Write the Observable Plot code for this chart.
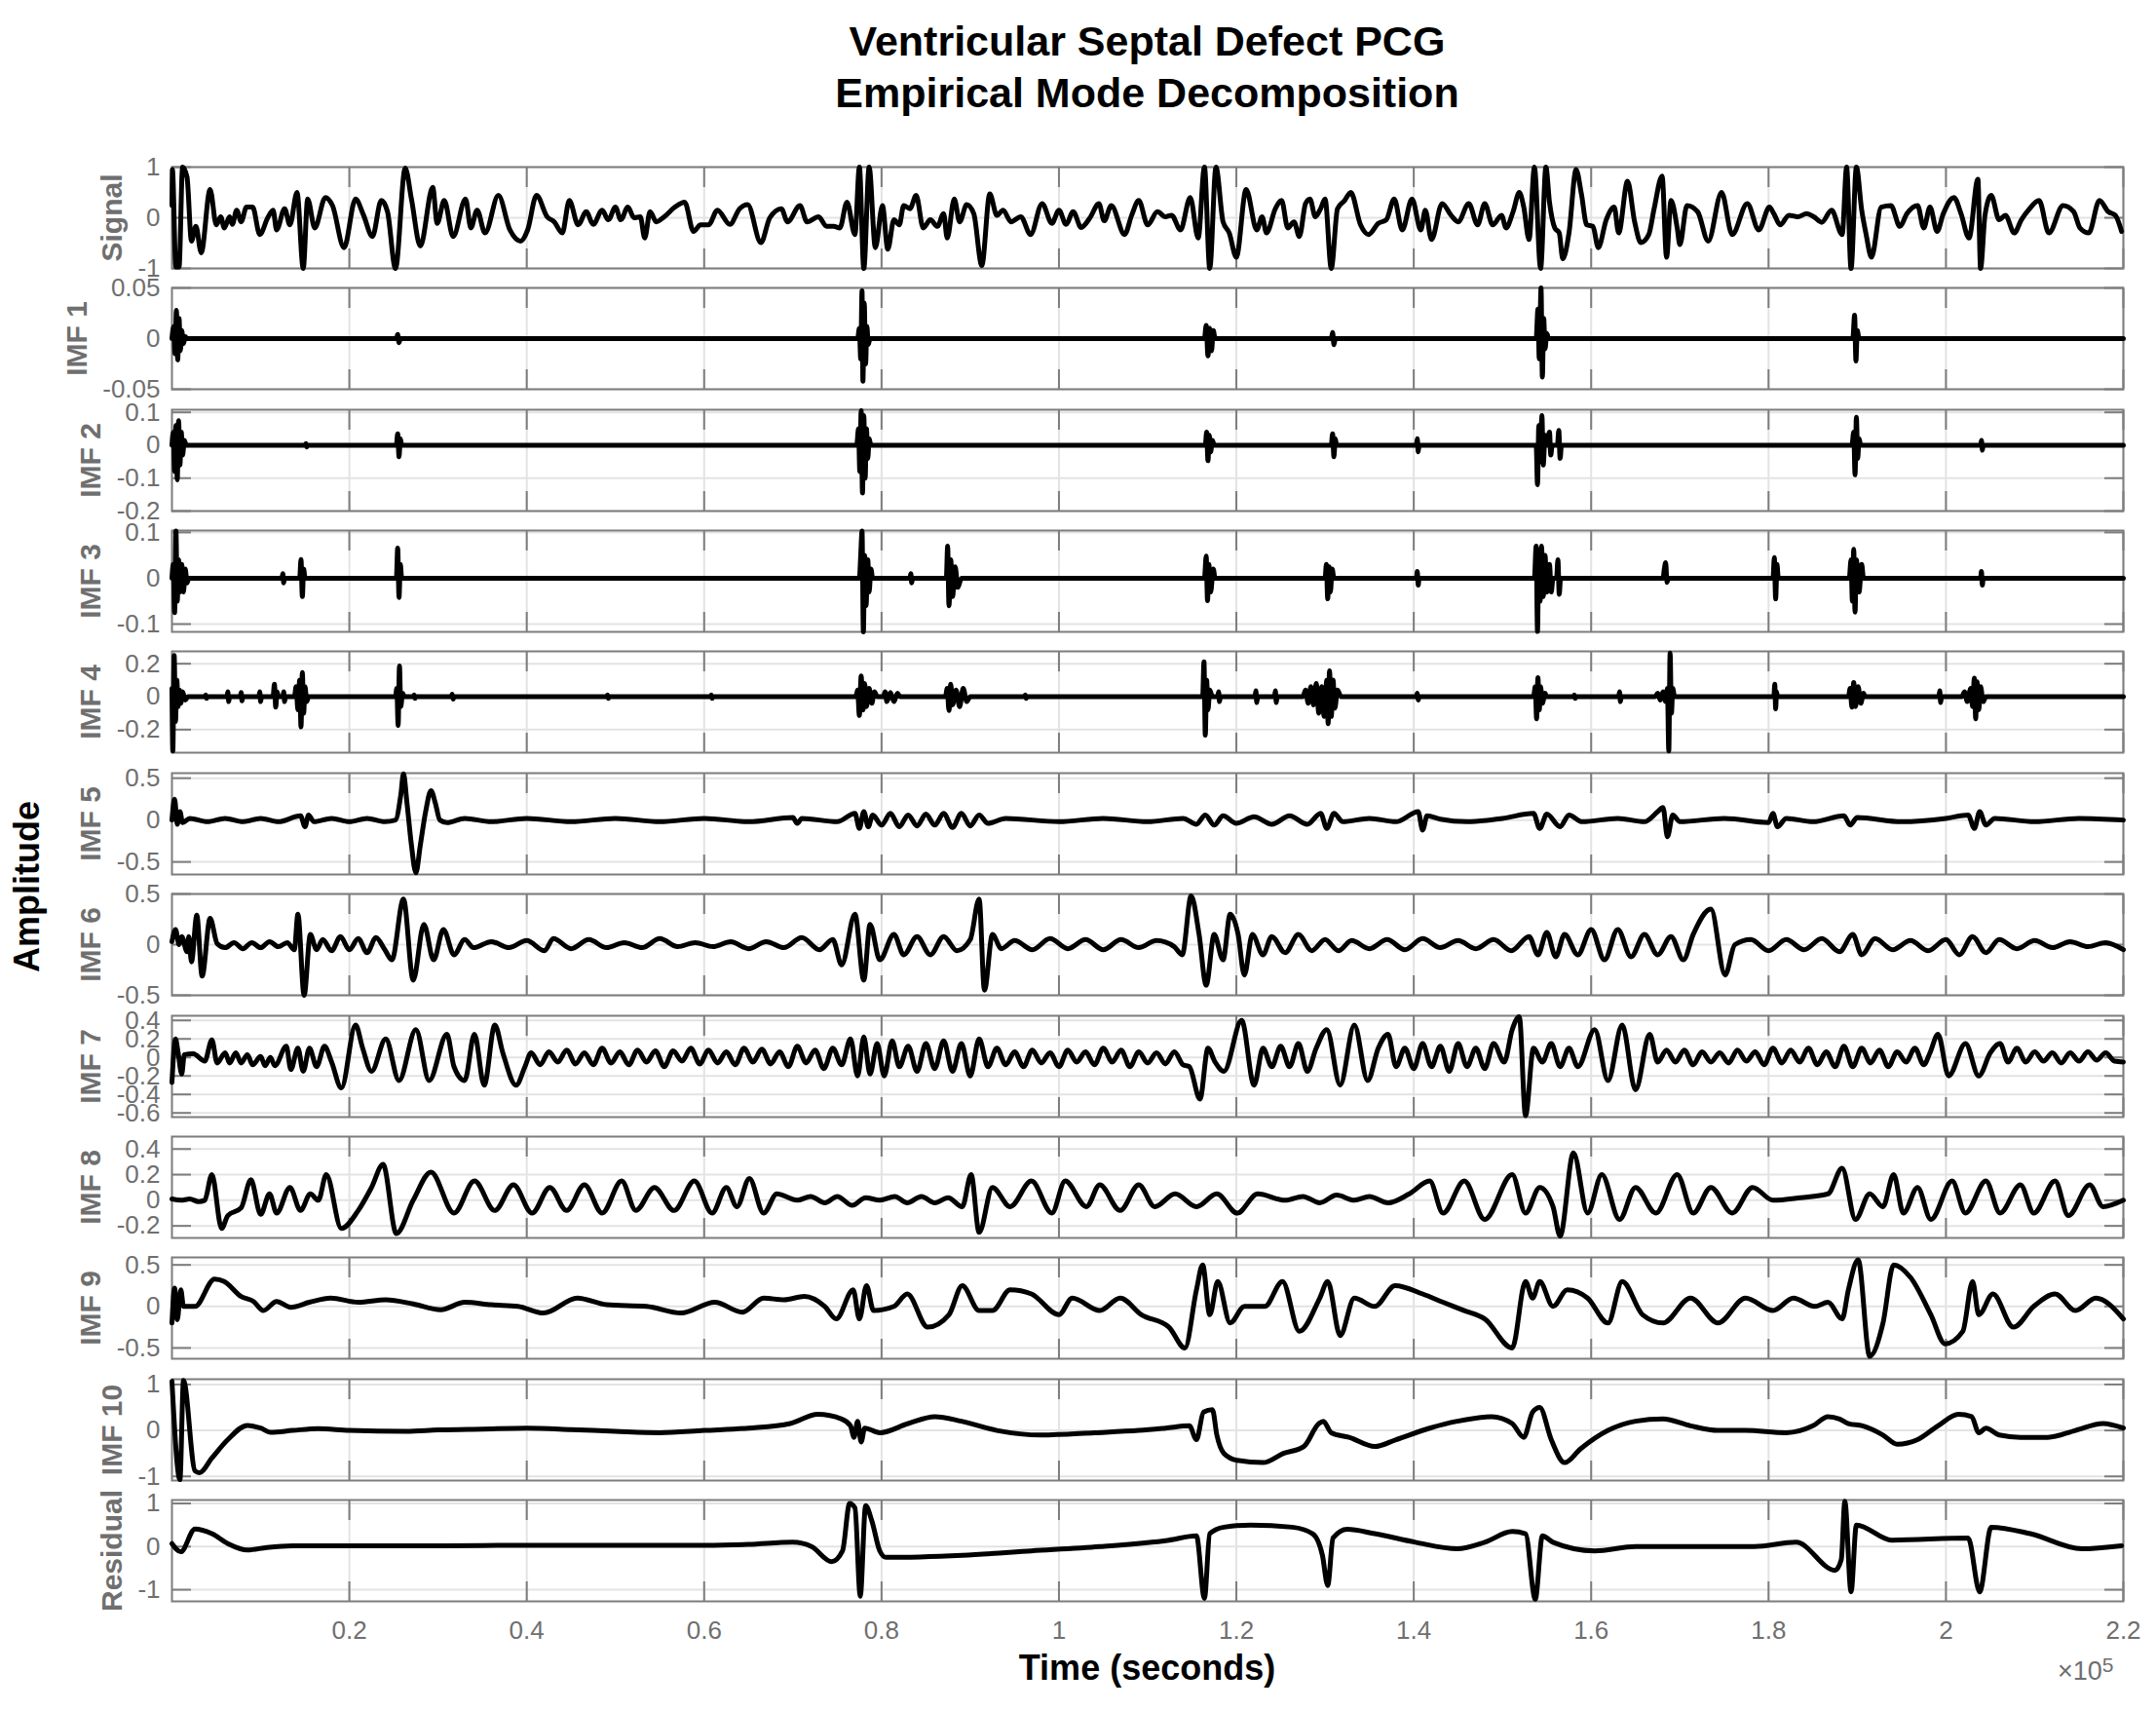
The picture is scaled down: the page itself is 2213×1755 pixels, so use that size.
<!DOCTYPE html>
<html>
<head>
<meta charset="utf-8">
<script src="https://cdn.jsdelivr.net/npm/d3@7"></script>
<script src="https://cdn.jsdelivr.net/npm/@observablehq/plot@0.6"></script>
<style>
  html, body { margin: 0; padding: 0; background: #fff; }
  body { width: 2213px; height: 1755px; position: relative; overflow: hidden; font-family: "Liberation Sans", Arial, sans-serif; }
  #title { position: absolute; left: 176px; width: 2003px; top: 16px; text-align: center; font-weight: bold; font-size: 43px; line-height: 53px; color: #000; }
  #ylab { position: absolute; left: 28px; top: 910px; transform: translate(-50%, -50%) rotate(-90deg); font-weight: bold; font-size: 36px; line-height: 36px; white-space: nowrap; color: #000; }
  #xlab { position: absolute; left: 176px; width: 2003px; top: 1693px; text-align: center; font-weight: bold; font-size: 36px; line-height: 38px; color: #000; }
  #exp { position: absolute; left: 2112px; top: 1700px; font-size: 27px; line-height: 30px; color: #6f6f6f; white-space: nowrap; }
  #exp sup { font-size: 21px; position: relative; top: -6px; vertical-align: top; }
</style>
</head>
<body>
<div id="title">Ventricular Septal Defect PCG<br>Empirical Mode Decomposition</div>
<div id="ylab">Amplitude</div>
<div id="xlab">Time (seconds)</div>
<div id="exp">×10<sup>5</sup></div>
<div id="panels"></div>
<script>
// ---------- data: [time in thousands of samples, amplitude] ----------
const signal = [[0,0.24],[0.05,0.95],[0.44,-0.97],[0.8,-0.97],[1.2,1.0],[1.7,0.8],[2.2,-0.46],[2.7,-0.17],[3.3,-0.69],[4.3,0.56],[5.0,-0.14],[5.5,0.02],[5.9,-0.2],[6.5,0.02],[6.8,-0.13],[7.3,0.15],[7.8,-0.08],[8.4,0.21],[9.1,0.21],[9.9,-0.33],[10.8,0],[11.4,0.15],[11.8,-0.24],[12.7,0.18],[13.3,-0.14],[14.1,0.5],[14.8,-1.0],[15.3,0.37],[16.1,-0.2],[17.3,0.4],[18.1,0.24],[19.4,-0.59],[20.7,0.37],[21.6,0.05],[22.6,-0.37],[23.6,0.34],[24.3,0.12],[25.2,-1.0],[26.3,0.98],[27.0,0.37],[28.0,-0.56],[29.4,0.6],[29.9,-0.11],[30.7,0.34],[31.7,-0.37],[33.1,0.37],[33.7,-0.2],[34.4,0.15],[35.3,-0.3],[36.8,0.44],[38.1,-0.24],[39.3,-0.46],[40.1,-0.24],[41.1,0.44],[42.3,0.02],[43.1,-0.08],[44.0,-0.3],[44.8,0.34],[45.8,-0.14],[46.7,0.12],[47.5,-0.13],[48.5,0.15],[49.2,-0.04],[50.0,0.21],[50.6,-0.04],[51.4,0.21],[52.1,0],[52.8,0.02],[53.3,-0.4],[53.9,0.12],[54.6,-0.08],[55.5,0.02],[56.7,0.21],[57.8,0.31],[58.8,-0.27],[59.6,-0.14],[60.5,-0.14],[61.5,0.15],[62.9,-0.13],[64.0,0.18],[64.9,0.26],[66.4,-0.49],[67.4,0],[68.7,0.18],[69.4,-0.08],[70.8,0.24],[71.6,-0.08],[72.9,0.02],[73.8,-0.17],[74.6,-0.17],[75.3,-0.2],[76.1,0.31],[77.0,-0.33],[77.5,1.0],[78.0,-1.0],[78.6,1.0],[79.3,-0.59],[80.1,0.24],[80.7,-0.62],[81.4,-0.04],[82.0,-0.14],[82.5,0.24],[83.2,0.18],[83.9,0.44],[84.7,-0.2],[85.5,-0.04],[86.3,-0.17],[87.0,0.08],[87.4,-0.4],[88.2,0.37],[88.8,-0.08],[89.6,0.26],[90.4,0.08],[91.3,-0.94],[92.2,0.47],[93.0,0.05],[93.7,0.15],[94.6,-0.08],[95.7,0.02],[96.8,-0.33],[98.1,0.28],[99.2,-0.11],[100.0,0.15],[100.8,-0.13],[101.6,0.12],[102.5,-0.19],[103.5,0],[104.5,0.28],[105.1,-0.06],[105.9,0.24],[107.4,-0.33],[108.2,0.05],[109.0,0.34],[110.0,-0.14],[111.1,0.12],[112.0,0.02],[112.7,0.05],[113.7,-0.24],[114.8,0.4],[115.7,-0.4],[116.4,1.0],[117.0,-1.0],[117.7,1.0],[118.5,-0.08],[119.2,-0.3],[120.0,-0.78],[121.1,0.56],[122.3,-0.24],[122.9,0.02],[123.4,-0.3],[124.4,0.18],[125.1,0.34],[125.8,-0.2],[126.5,-0.08],[127.1,-0.37],[127.8,0.28],[128.3,0.37],[128.9,0.02],[129.5,0.18],[130.0,0.37],[130.7,-1.0],[131.4,0.18],[132.2,0.34],[132.9,0.5],[134.0,-0.14],[134.9,-0.33],[136.0,-0.11],[136.9,-0.04],[137.8,0.37],[138.7,-0.24],[139.8,0.37],[140.8,-0.24],[141.3,0.15],[142.0,-0.43],[143.2,0.28],[144.2,0.05],[145.0,-0.08],[146.2,0.28],[147.2,-0.14],[148.0,0.28],[148.9,-0.14],[149.9,0.05],[150.4,-0.2],[151.2,0.12],[151.9,0.5],[152.4,0.21],[153.0,-0.43],[153.6,1.0],[154.3,-1.0],[154.9,1.0],[155.3,0.31],[155.9,-0.2],[156.4,-0.3],[156.8,-0.81],[157.5,-0.3],[158.3,0.95],[158.9,0.47],[159.5,-0.14],[160.2,-0.17],[160.8,-0.59],[161.7,-0.04],[162.6,0.21],[163.1,-0.3],[164.1,0.72],[164.9,-0.08],[165.6,-0.49],[166.5,-0.33],[167.1,0.18],[168.0,0.82],[168.5,-0.78],[169.0,0.34],[169.7,-0.2],[170.0,-0.53],[170.8,0.24],[172.0,0.12],[173.2,-0.46],[174.7,0.5],[175.9,-0.33],[177.6,0.28],[178.9,-0.24],[180.1,0.21],[180.6,0.08],[181.3,-0.14],[182.3,0.05],[183.3,0.02],[184.3,0.08],[185.1,0.02],[186.0,-0.09],[187.1,0.15],[188.3,-0.33],[188.8,1.0],[189.3,-1.0],[189.9,1.0],[190.5,0.15],[191.0,-0.33],[191.6,-0.78],[192.7,0.21],[193.8,0.24],[194.8,-0.17],[195.6,0.08],[196.8,0.24],[197.5,-0.2],[198.2,0.21],[199.0,-0.27],[199.7,0.08],[200.9,0.4],[201.7,0.08],[202.6,-0.4],[203.6,0.76],[203.9,-1.0],[204.4,0.05],[205.1,0.44],[206.0,-0.04],[206.7,0.05],[207.7,-0.3],[208.5,-0.04],[209.3,0.15],[210.5,0.34],[211.6,-0.3],[213.2,0.24],[214.4,0.12],[215.1,-0.2],[216.1,-0.3],[217.3,0.34],[218.3,0.12],[219.1,0.05],[219.8,-0.27]];

const imf1 = [[0,0],[0.2,0.012],[0.35,-0.015],[0.5,0.028],[0.65,-0.021],[0.8,0.02],[0.95,-0.012],[1.1,0.008],[1.3,-0.005],[1.5,0.002],[1.7,0],[25.3,0],[25.45,0.004],[25.6,-0.004],[25.75,0],[77.3,0],[77.5,0.01],[77.65,-0.02],[77.8,0.047],[77.9,-0.042],[78.05,0.035],[78.2,-0.025],[78.35,0.012],[78.5,-0.006],[78.7,0],[116.4,0],[116.6,0.013],[116.8,-0.017],[117.0,0.01],[117.2,-0.012],[117.4,0.008],[117.6,0],[130.7,0],[130.85,0.006],[131.0,-0.006],[131.15,0],[153.8,0],[154.0,0.029],[154.15,-0.02],[154.35,0.05],[154.5,-0.038],[154.65,0.02],[154.8,-0.01],[155.0,0.005],[155.2,0],[189.5,0],[189.7,0.023],[189.85,-0.022],[190.0,0.008],[190.2,0],[220,0]];

const imf2 = [[0,0],[0.15,0.04],[0.3,-0.08],[0.45,0.06],[0.6,-0.105],[0.75,0.075],[0.9,-0.06],[1.05,0.04],[1.2,-0.03],[1.4,0.015],[1.6,0],[15,0],[15.1,0.005],[15.2,-0.005],[15.3,0],[25.3,0],[25.45,0.035],[25.6,-0.035],[25.75,0.02],[25.9,0],[77.2,0],[77.4,0.05],[77.55,-0.08],[77.7,0.105],[77.85,-0.145],[78.0,0.09],[78.15,-0.1],[78.3,0.05],[78.45,-0.04],[78.6,0.02],[78.8,0],[116.5,0],[116.65,0.04],[116.8,-0.047],[116.95,0.03],[117.1,-0.02],[117.3,0.015],[117.5,0],[130.7,0],[130.85,0.035],[131.0,-0.035],[131.15,0.02],[131.3,0],[140.3,0],[140.4,0.02],[140.5,-0.02],[140.6,0],[153.8,0],[153.95,-0.12],[154.1,0.06],[154.25,-0.05],[154.45,0.09],[154.6,-0.06],[154.8,0.03],[155.0,0],[155.3,0.04],[155.45,-0.03],[155.6,0],[156.2,0],[156.35,0.045],[156.5,-0.04],[156.65,0],[189.4,0],[189.6,0.04],[189.75,-0.09],[189.9,0.085],[190.05,-0.04],[190.2,0.02],[190.4,0],[203.9,0],[204.0,0.015],[204.1,-0.015],[204.2,0],[220,0]];

const imf3 = [[0,0],[0.15,0.03],[0.3,-0.075],[0.45,0.103],[0.6,-0.05],[0.75,0.04],[0.9,-0.03],[1.1,0.03],[1.3,-0.03],[1.5,0.02],[1.7,-0.01],[1.9,0],[12.4,0],[12.5,0.01],[12.6,-0.01],[12.7,0],[14.4,0],[14.55,0.041],[14.7,-0.04],[14.85,0.02],[15.0,0],[25.3,0],[25.45,0.066],[25.6,-0.042],[25.75,0.03],[25.9,0],[77.5,0],[77.65,0.05],[77.8,0.103],[77.95,-0.117],[78.1,0.05],[78.25,-0.06],[78.45,0.04],[78.6,-0.03],[78.8,0.02],[79.0,0],[83.2,0],[83.3,0.01],[83.4,-0.01],[83.5,0],[87.3,0],[87.45,0.07],[87.6,-0.06],[87.8,0.04],[88.0,-0.04],[88.3,0.025],[88.6,-0.02],[89.0,0],[116.4,0],[116.6,0.048],[116.75,-0.049],[116.9,0.03],[117.1,-0.03],[117.4,0.02],[117.6,0],[130.0,0],[130.15,0.03],[130.3,-0.045],[130.45,0.025],[130.6,-0.03],[130.8,0.02],[131.0,0],[140.3,0],[140.4,0.015],[140.5,-0.015],[140.6,0],[153.6,0],[153.8,0.07],[153.95,-0.116],[154.1,0.06],[154.25,-0.05],[154.4,0.07],[154.6,-0.04],[154.8,0.05],[155.0,-0.03],[155.3,0.03],[155.5,-0.03],[155.7,0],[156.1,0],[156.25,0.04],[156.4,-0.035],[156.55,0],[168.1,0],[168.25,0.02],[168.4,0.034],[168.55,-0.009],[168.7,0],[180.5,0],[180.65,0.045],[180.8,-0.045],[180.95,0.03],[181.1,0],[189.1,0],[189.3,0.04],[189.45,-0.05],[189.6,0.063],[189.75,-0.074],[189.9,0.04],[190.2,-0.03],[190.5,0.03],[190.7,0],[203.9,0],[204.0,0.015],[204.1,-0.015],[204.2,0],[220,0]];

const imf4 = [[0,0.05],[0.1,-0.33],[0.25,0.25],[0.4,-0.15],[0.55,0.1],[0.7,-0.06],[0.85,0.04],[1.0,-0.04],[1.2,0.03],[1.5,-0.02],[1.8,0],[3.7,0],[3.8,0.01],[3.9,-0.01],[4.0,0],[6.2,0],[6.3,0.03],[6.4,-0.03],[6.5,0],[7.7,0],[7.8,0.025],[7.9,-0.025],[8.0,0],[9.8,0],[9.9,0.03],[10.0,-0.03],[10.1,0],[11.4,0],[11.55,0.076],[11.7,-0.064],[11.85,0.03],[12.0,0],[12.5,0],[12.6,0.03],[12.7,-0.03],[12.8,0],[13.8,0],[14.0,0.06],[14.2,-0.08],[14.4,0.1],[14.55,-0.184],[14.7,0.146],[14.85,-0.1],[15.0,0.06],[15.2,-0.03],[15.4,0],[25.2,0],[25.35,0.05],[25.5,-0.174],[25.65,0.186],[25.8,-0.06],[26.0,0.02],[26.2,0],[27.2,0],[27.3,0.01],[27.4,-0.01],[27.5,0],[31.5,0],[31.6,0.015],[31.7,-0.015],[31.8,0],[49.0,0],[49.1,0.01],[49.2,-0.01],[49.3,0],[60.7,0],[60.8,0.01],[60.9,-0.01],[61.0,0],[77.1,0],[77.3,0.04],[77.5,-0.114],[77.7,0.126],[77.9,-0.08],[78.1,0.08],[78.3,-0.06],[78.6,0.05],[78.9,-0.04],[79.2,0.03],[79.5,0],[80.2,0],[80.4,0.03],[80.6,-0.03],[81.0,0.025],[81.4,-0.03],[81.8,0.02],[82.1,0],[87.2,0],[87.4,0.05],[87.6,-0.084],[87.8,0.076],[88.0,-0.05],[88.4,0.04],[88.8,-0.06],[89.2,0.05],[89.6,-0.03],[90.0,0],[96.1,0],[96.2,0.01],[96.3,-0.01],[96.4,0],[116.2,0],[116.35,0.212],[116.5,-0.234],[116.65,0.1],[116.8,-0.08],[117.0,0.04],[117.3,0],[117.9,0],[118.0,0.03],[118.1,-0.03],[118.2,0],[122.1,0],[122.2,0.035],[122.3,-0.035],[122.4,0],[124.3,0],[124.4,0.035],[124.5,-0.035],[124.6,0],[127.5,0],[127.8,0.04],[128.1,-0.04],[128.4,0.06],[128.7,-0.05],[129.0,0.08],[129.3,-0.1],[129.6,0.06],[129.9,-0.12],[130.2,0.1],[130.35,-0.164],[130.5,0.156],[130.7,-0.12],[130.9,0.1],[131.1,-0.07],[131.4,0.04],[131.8,0],[140.3,0],[140.4,0.02],[140.5,-0.02],[140.6,0],[153.5,0],[153.7,0.06],[153.85,-0.134],[154.0,0.116],[154.15,-0.08],[154.3,0.06],[154.5,-0.04],[154.8,0.02],[155.0,0],[158.0,0],[158.1,0.01],[158.2,-0.01],[158.3,0],[163.1,0],[163.2,0.03],[163.3,-0.03],[163.4,0],[167.2,0],[167.5,0.02],[167.8,-0.02],[168.1,0.03],[168.4,-0.03],[168.6,0.05],[168.75,-0.33],[168.9,0.265],[169.05,-0.1],[169.2,0.05],[169.4,0],[180.6,0],[180.7,0.076],[180.8,-0.074],[180.9,0.03],[181.0,0],[189.0,0],[189.2,0.05],[189.4,-0.064],[189.6,0.086],[189.8,-0.06],[190.1,0.06],[190.4,-0.04],[190.7,0.02],[190.9,0],[199.2,0],[199.3,0.035],[199.4,-0.035],[199.5,0],[201.8,0],[202.1,0.03],[202.4,-0.03],[202.8,0.05],[203.0,-0.06],[203.2,0.112],[203.35,-0.134],[203.5,0.09],[203.7,-0.08],[203.9,0.06],[204.2,-0.03],[204.5,0],[220,0]];

const imf5 = [[0,0],[0.3,0.25],[0.6,-0.05],[0.9,0.1],[1.2,-0.03],[2,0.02],[4,-0.02],[6,0.02],[8,-0.02],[10,0.02],[12,-0.02],[14.5,0.05],[15.0,-0.08],[15.4,0.06],[16,-0.02],[18,0.02],[20,-0.02],[22,0.02],[24,-0.02],[25.2,0.0],[25.8,0.3],[26.1,0.55],[26.5,0.2],[27.0,-0.3],[27.5,-0.63],[28.0,-0.3],[28.6,0.1],[29.2,0.35],[29.7,0.2],[30.2,0],[31,-0.03],[33,0.02],[36,-0.02],[40,0.02],[45,-0.02],[50,0.02],[55,-0.02],[60,0.02],[65,-0.02],[70,0.03],[70.5,-0.04],[71,0.02],[75,-0.02],[77,0.08],[77.5,-0.1],[78,0.1],[78.5,-0.08],[79,0.06],[80,-0.06],[81,0.08],[82,-0.08],[83,0.06],[84,-0.07],[85,0.07],[86,-0.06],[87,0.08],[88,-0.09],[89,0.08],[90,-0.07],[91,0.06],[92,-0.04],[94,0.02],[100,-0.02],[105,0.02],[110,-0.02],[114,0.02],[115.5,-0.05],[116.5,0.06],[117.5,-0.06],[118.5,0.05],[120,-0.04],[122,0.04],[124,-0.05],[126,0.05],[128,-0.05],[129.5,0.08],[130.2,-0.1],[131,0.08],[132,-0.02],[135,0.02],[138,-0.02],[140.5,0.1],[141,-0.12],[141.5,0.05],[143,0.01],[146,-0.02],[150,0.02],[153.5,0.08],[154.2,-0.1],[155,0.07],[156.5,-0.08],[157.5,0.06],[159,-0.02],[163,0.02],[166,-0.02],[167.5,0.1],[168.1,0.15],[168.6,-0.2],[169.2,0.06],[170,-0.02],[175,0.02],[180,-0.03],[180.5,0.08],[181,-0.08],[182,0.02],[185,-0.02],[188.5,0.05],[189.2,-0.06],[190,0.03],[195,-0.02],[200,0.02],[202.5,0.06],[203.2,-0.1],[203.8,0.1],[204.5,-0.06],[205.5,0.02],[210,-0.02],[215,0.02],[220,0]];

const imf6 = [[0,0.03],[0.4,0.15],[0.8,0],[1.1,0.08],[1.7,-0.07],[1.9,0.08],[2.2,-0.17],[2.8,0.29],[3.4,-0.31],[4.3,0.26],[5.1,0.01],[6,-0.03],[7,0.02],[8,-0.04],[9,0.02],[10,-0.03],[11,0.03],[12,-0.02],[13,0.02],[13.8,-0.05],[14.2,0.3],[14.9,-0.5],[15.6,0.1],[16.3,-0.05],[17,0.05],[18,-0.06],[19,0.08],[20,-0.05],[21,0.06],[22,-0.08],[23,0.07],[24,-0.05],[24.8,-0.15],[26.1,0.45],[27.2,-0.35],[28.4,0.2],[29.5,-0.15],[30.6,0.15],[31.8,-0.1],[33,0.05],[34,-0.03],[36,0.03],[38,-0.03],[40,0.04],[42,-0.06],[43,0.06],[45,-0.04],[47,0.05],[49,-0.03],[51,0.02],[53,-0.03],[55,0.06],[57,-0.02],[59,0.02],[61,-0.02],[63,0.03],[65,-0.04],[67,0.03],[69,-0.03],[71,0.07],[73,-0.05],[74.5,0.05],[75.5,-0.2],[77.0,0.3],[78.0,-0.35],[78.7,0.2],[79.8,-0.15],[81.4,0.1],[82.5,-0.1],[84,0.08],[85.5,-0.1],[87,0.08],[88.5,-0.06],[90,0.05],[91,0.45],[91.6,-0.45],[92.5,0.1],[93.5,-0.04],[95,0.04],[97,-0.05],[99,0.06],[101,-0.04],[103,0.05],[105,-0.05],[107,0.05],[109,-0.03],[111,0.04],[113,-0.02],[113.9,-0.1],[114.9,0.48],[115.8,0.1],[116.6,-0.4],[117.5,0.1],[118.5,-0.15],[119.3,0.3],[120.2,0.1],[120.9,-0.3],[121.8,0.1],[123,-0.1],[124,0.08],[125.5,-0.08],[127,0.1],[128.5,-0.06],[130,0.05],[131.5,-0.06],[133,0.04],[135,-0.04],[137,0.05],[139,-0.05],[141,0.06],[143,-0.03],[145,0.04],[147,-0.04],[149,0.05],[151,-0.06],[153,0.08],[154,-0.1],[155,0.12],[156,-0.12],[157,0.1],[158.5,-0.1],[160,0.15],[161.5,-0.15],[163,0.15],[164.5,-0.12],[166,0.1],[167.5,-0.1],[169,0.08],[170.4,-0.15],[171.5,0.1],[173.5,0.35],[175.1,-0.3],[176.2,0],[178,0.05],[180,-0.06],[182,0.05],[184,-0.05],[186,0.06],[188,-0.07],[189.5,0.1],[190.5,-0.1],[192,0.06],[194,-0.05],[196,0.04],[198,-0.06],[200,0.05],[201.5,-0.1],[203,0.08],[204.5,-0.08],[206,0.05],[208,-0.04],[210,0.04],[212,-0.03],[214,0.03],[216,-0.02],[218,0.02],[220,-0.05]];

const imf7 = [[0,-0.27],[0.4,0.2],[0.7,0.05],[1.1,-0.18],[1.4,0.03],[2.4,0.04],[3.7,-0.04],[4.5,0.19],[5.1,-0.06],[6.0,0.05],[6.5,-0.06],[7.2,0.05],[7.8,-0.06],[8.5,0.03],[9.1,-0.08],[10,0.01],[10.5,-0.09],[11.1,0],[11.6,-0.09],[12.9,0.12],[13.4,-0.13],[14.2,0.1],[14.8,-0.15],[15.5,0.1],[16.3,-0.1],[17.2,0.12],[18,-0.05],[19.1,-0.33],[20.7,0.35],[21.5,0.1],[22.5,-0.15],[24.1,0.2],[25.6,-0.25],[27.5,0.3],[29.0,-0.25],[31.0,0.25],[31.8,-0.1],[33,-0.25],[34.1,0.25],[35.2,-0.3],[36.4,0.35],[37.3,0.05],[38.8,-0.3],[39.8,-0.1],[40.5,0.05],[41.5,-0.08],[42.5,0.06],[43.5,-0.05],[44.5,0.08],[45.5,-0.07],[46.5,0.05],[47.5,-0.08],[48.5,0.1],[49.5,-0.06],[50.5,0.06],[51.5,-0.08],[52.5,0.08],[53.5,-0.05],[54.5,0.07],[55.5,-0.1],[56.5,0.07],[57.5,-0.04],[58.5,0.1],[59.5,-0.07],[60.5,0.08],[61.5,-0.06],[62.5,0.06],[63.5,-0.08],[64.5,0.1],[65.5,-0.05],[66.5,0.09],[67.5,-0.07],[68.5,0.06],[69.5,-0.1],[70.5,0.12],[71.5,-0.06],[72.5,0.08],[73.5,-0.12],[74.5,0.1],[75.5,-0.08],[76.5,0.2],[77.3,-0.2],[78,0.22],[78.7,-0.18],[79.5,0.15],[80.3,-0.2],[81.2,0.18],[82,-0.1],[83,0.12],[84,-0.15],[85,0.15],[86,-0.12],[87,0.18],[88,-0.15],[89,0.15],[90,-0.2],[91,0.2],[92,-0.1],[93,0.1],[94,-0.08],[95,0.06],[96,-0.1],[97,0.08],[98,-0.06],[99,0.05],[100,-0.1],[101,0.08],[102,-0.05],[103,0.06],[104,-0.08],[105,0.1],[106,-0.05],[107,0.08],[108,-0.1],[109,0.06],[110,-0.06],[111,0.05],[112,-0.07],[113,0.06],[114,-0.08],[114.7,-0.1],[115.9,-0.45],[116.8,0.1],[117.6,-0.05],[118.6,-0.15],[120.6,0.4],[122.0,-0.3],[123,0.1],[124,-0.1],[125,0.12],[126,-0.1],[127,0.15],[128,-0.15],[129,0.1],[130.2,0.3],[131.7,-0.3],[133.3,0.35],[134.8,-0.25],[136,0.1],[137.1,0.25],[138,-0.1],[139,0.1],[140,-0.12],[141,0.15],[142,-0.1],[143,0.12],[144,-0.15],[145,0.15],[146,-0.1],[147,0.1],[148,-0.12],[149,0.15],[150.2,-0.05],[151.1,0.3],[151.9,0.44],[152.6,-0.63],[153.5,0.1],[154.5,-0.05],[155.5,0.15],[156.5,-0.1],[157.5,0.1],[158.5,-0.1],[160.4,0.3],[161.9,-0.25],[163.5,0.35],[165.0,-0.35],[166.6,0.25],[167.5,-0.05],[168.5,0.08],[169.5,-0.05],[170.5,0.08],[171.5,-0.08],[172.5,0.06],[173.5,-0.05],[174.5,0.05],[175.5,-0.06],[176.5,0.08],[177.5,-0.04],[178.5,0.06],[179.5,-0.08],[180.5,0.1],[181.5,-0.06],[182.5,0.08],[183.5,-0.05],[184.5,0.1],[185.5,-0.08],[186.5,0.06],[187.5,-0.1],[188.5,0.12],[189.5,-0.1],[190.5,0.1],[191.5,-0.06],[192.5,0.08],[193.5,-0.1],[194.5,0.06],[195.5,-0.05],[196.5,0.1],[197.5,-0.08],[198.2,0.05],[199.1,0.25],[200.3,-0.2],[202.2,0.15],[203.7,-0.2],[205,0.05],[206.1,0.15],[207,-0.05],[208,0.1],[209,-0.05],[210,0.06],[211,-0.04],[212,0.05],[213,-0.06],[214,0.05],[215,-0.04],[216,0.06],[217,-0.03],[218,0.05],[219,-0.04],[220,-0.05]];

const imf8 = [[0,0.01],[1,0],[2,0.01],[3,-0.01],[3.7,0],[4.5,0.2],[5.6,-0.22],[6.3,-0.12],[7.8,-0.06],[8.9,0.16],[10,-0.11],[11,0.05],[11.8,-0.1],[13.3,0.1],[14.5,-0.08],[15.6,0.05],[16.5,0.0],[17.4,0.2],[19.1,-0.22],[21.0,-0.08],[22.5,0.1],[23.8,0.28],[25.3,-0.26],[27.2,0],[29.2,0.22],[31.8,-0.1],[34.1,0.15],[36.4,-0.08],[38.5,0.12],[40.6,-0.1],[42.6,0.1],[44.5,-0.08],[46.5,0.12],[48.5,-0.1],[50.7,0.15],[52.3,-0.08],[54.4,0.1],[56.6,-0.08],[58.9,0.15],[60.9,-0.1],[62.5,0.1],[63.7,-0.05],[65.1,0.17],[66.7,-0.1],[68.2,0.05],[70.5,0],[72,0.03],[73.6,-0.02],[75,0.03],[76.7,-0.04],[78.2,0.02],[79.8,0],[81.5,0.03],[82.9,-0.02],[84.5,0.03],[86.0,-0.02],[87.5,0.02],[89.1,-0.05],[90.1,0.2],[91.0,-0.25],[92.5,0.1],[94.5,-0.05],[96.9,0.15],[99.2,-0.1],[100.7,0.15],[103.1,-0.05],[104.6,0.12],[106.9,-0.08],[109.0,0.12],[110.8,-0.05],[113.1,0.05],[115.5,-0.05],[117.8,0.05],[120.1,-0.1],[122.4,0.05],[125.5,0],[127.5,0.03],[129.4,-0.02],[131.3,0.04],[133.3,0],[135,0.03],[137.1,-0.02],[139.5,0.05],[141.8,0.15],[143.3,-0.1],[145.7,0.15],[148.0,-0.15],[151.1,0.2],[152.6,-0.1],[154.2,0.1],[155.7,-0.05],[156.5,-0.28],[158.0,0.37],[159.6,-0.1],[161.2,0.2],[163.2,-0.15],[165.0,0.1],[167.3,-0.1],[169.7,0.2],[171.5,-0.1],[173.5,0.1],[175.9,-0.1],[178.2,0.1],[180.5,0],[183.6,0.02],[186.7,0.05],[188.3,0.25],[189.8,-0.15],[191.4,0.05],[192.9,-0.05],[194.1,0.2],[195.2,-0.1],[196.8,0.1],[198.3,-0.15],[200.7,0.15],[202.2,-0.1],[204.5,0.15],[206.1,-0.1],[208.4,0.12],[209.9,-0.1],[212.3,0.15],[213.8,-0.12],[216.2,0.12],[217.7,-0.05],[220,0]];

const imf9 = [[0,-0.2],[0.3,0.22],[0.6,-0.16],[1.0,0.2],[1.3,0],[2.6,0],[4.8,0.33],[5.9,0.3],[7.8,0.12],[9.2,0.06],[10.3,-0.05],[11.8,0.06],[13.4,-0.01],[15.5,0.05],[17.9,0.1],[21.0,0.05],[24.1,0.08],[27.2,0.03],[30.3,-0.04],[33,0.05],[36,0.02],[39,0.0],[41.9,-0.08],[45.7,0.1],[49,0.02],[53.5,0],[57.4,-0.08],[61.2,0.05],[64.3,-0.07],[66.7,0.1],[69.0,0.08],[71.3,0.12],[73.6,0],[74.9,-0.15],[76.8,0.2],[77.5,-0.15],[78.3,0.25],[79.1,-0.05],[81.4,0],[82.9,0.15],[85.2,-0.25],[87.6,-0.1],[89.1,0.25],[91.0,-0.05],[92.5,-0.05],[94.5,0.2],[96.9,0.15],[100.0,-0.1],[101.5,0.1],[104.6,-0.05],[106.9,0.1],[109.3,-0.1],[112.4,-0.25],[114.2,-0.5],[115.5,0.2],[116.2,0.5],[117.0,-0.1],[117.9,0.3],[119.3,-0.2],[120.9,0],[123.2,0],[125.2,0.3],[127.1,-0.3],[129.4,0.1],[130.3,0.3],[131.7,-0.35],[133.3,0.1],[135.6,0],[137.9,0.25],[141.0,0.15],[143.3,0.05],[145.7,-0.05],[148.0,-0.15],[151.1,-0.5],[152.6,0.3],[153.4,0.1],[154.2,0.3],[155.7,0],[157.3,0.2],[159.6,0.1],[161.9,-0.2],[163.5,0.3],[165.8,-0.1],[168.1,-0.2],[171.2,0.1],[174.3,-0.2],[177.4,0.1],[180.5,-0.05],[182.8,0.1],[185.2,0],[186.7,0.05],[188.3,-0.15],[189.0,0.2],[190.1,0.56],[191.4,-0.6],[192.9,-0.2],[194.1,0.5],[196.0,0.35],[198.3,-0.1],[199.9,-0.45],[201.9,-0.3],[203.0,0.3],[203.7,-0.1],[205.3,0.15],[207.6,-0.25],[209.9,0],[212.3,0.15],[214.6,-0.05],[216.9,0.1],[220,-0.15]];

const imf10 = [[0,1.07],[0.9,-1.07],[1.3,1.09],[2.6,-0.88],[3.1,-0.92],[4.5,-0.6],[6.3,-0.2],[8.5,0.11],[10,0.05],[11.1,-0.04],[13.6,0],[16.5,0.04],[20,0],[26.4,-0.02],[30,0.01],[35,0.03],[40,0.05],[45,0.02],[50,-0.02],[55,-0.05],[60,0],[65,0.05],[69.7,0.15],[72.8,0.35],[75.5,0.25],[76.5,0.1],[76.9,-0.15],[77.3,0.2],[77.7,-0.25],[78.1,0.05],[79.8,-0.05],[83,0.15],[86,0.3],[89,0.2],[93,0],[98,-0.1],[104,-0.05],[109,0],[112,0.05],[114.7,0.1],[115.5,-0.2],[116.3,0.4],[117.3,0.45],[117.8,-0.1],[118.6,-0.5],[120.1,-0.65],[123,-0.7],[125.3,-0.5],[127.6,-0.35],[129.3,0.15],[129.8,0.2],[130.7,-0.05],[132.7,-0.15],[135.6,-0.35],[138,-0.2],[141.8,0.05],[144.9,0.2],[148.8,0.3],[151.1,0.15],[152.4,-0.15],[153.4,0.4],[154.2,0.5],[155.5,-0.2],[157,-0.7],[158.8,-0.4],[161.9,0],[165,0.2],[168.1,0.25],[171.2,0.1],[174.3,0],[177.4,0],[182,-0.05],[185,0.1],[186.7,0.3],[188,0.25],[189,0.15],[190.6,0.1],[192.9,-0.1],[194.5,-0.3],[196.8,-0.2],[199.1,0.1],[201.4,0.35],[202.9,0.3],[203.7,-0.05],[204.5,0.05],[206,-0.1],[208.4,-0.15],[211.5,-0.15],[214.6,0],[217.7,0.15],[220,0.05]];

const residual = [[0,0.07],[1.0,-0.12],[2.6,0.41],[4.5,0.3],[6.3,0.07],[8.5,-0.08],[10.7,-0.02],[13.6,0.02],[20,0.02],[30,0.02],[40,0.03],[50,0.03],[60,0.03],[65,0.05],[70,0.1],[72.1,0.0],[74.4,-0.35],[75.6,-0.1],[76.4,1.0],[77.0,0.9],[77.6,-1.15],[78.2,0.95],[78.9,0.6],[79.8,-0.1],[80.5,-0.25],[89.1,-0.2],[96.9,-0.1],[104.6,0],[112.4,0.15],[115.5,0.25],[116.4,-1.2],[117.0,0.3],[118.6,0.45],[121.6,0.5],[126.3,0.45],[128.6,0.3],[129.7,-0.2],[130.3,-0.9],[130.9,0.2],[132.5,0.4],[135.6,0.3],[140.2,0.1],[144.9,-0.05],[148.0,0.1],[151.1,0.35],[152.6,0.3],[153.7,-1.22],[154.5,0.25],[155.7,0.1],[160.4,-0.1],[165,0],[172.9,0],[178.4,0],[183.1,0.1],[187.5,-0.55],[188.2,-0.3],[188.6,1.05],[189.3,-1.05],[189.9,0.5],[193.9,0.15],[202.5,0.2],[203.8,-1.05],[205.1,0.45],[209.5,0.3],[215.3,-0.05],[219.8,0.02]];

// ---------- tick values ----------
const xTicks = [20000, 40000, 60000, 80000, 100000, 120000, 140000, 160000, 180000, 200000, 220000];
const signalTicks = [-1, 0, 1];
const imf1Ticks = [-0.05, 0, 0.05];
const imf2Ticks = [-0.2, -0.1, 0, 0.1];
const imf3Ticks = [-0.1, 0, 0.1];
const imf4Ticks = [-0.2, 0, 0.2];
const imf5Ticks = [-0.5, 0, 0.5];
const imf6Ticks = [-0.5, 0, 0.5];
const imf7Ticks = [-0.6, -0.4, -0.2, 0, 0.2, 0.4];
const imf8Ticks = [-0.2, 0, 0.2, 0.4];
const imf9Ticks = [-0.5, 0, 0.5];
const imf10Ticks = [-1, 0, 1];
const residualTicks = [-1, 0, 1];

const panels = [
  {label: "Signal", data: signal, domain: [-1, 1], ticks: signalTicks},
  {label: "IMF 1", data: imf1, domain: [-0.05, 0.05], ticks: imf1Ticks},
  {label: "IMF 2", data: imf2, domain: [-0.2, 0.108], ticks: imf2Ticks},
  {label: "IMF 3", data: imf3, domain: [-0.117, 0.104], ticks: imf3Ticks},
  {label: "IMF 4", data: imf4, domain: [-0.34, 0.275], ticks: imf4Ticks},
  {label: "IMF 5", data: imf5, domain: [-0.65, 0.56], ticks: imf5Ticks},
  {label: "IMF 6", data: imf6, domain: [-0.5, 0.5], ticks: imf6Ticks},
  {label: "IMF 7", data: imf7, domain: [-0.645, 0.45], ticks: imf7Ticks},
  {label: "IMF 8", data: imf8, domain: [-0.294, 0.497], ticks: imf8Ticks},
  {label: "IMF 9", data: imf9, domain: [-0.63, 0.59], ticks: imf9Ticks},
  {label: "IMF 10", data: imf10, domain: [-1.09, 1.115], ticks: imf10Ticks},
  {label: "Residual", data: residual, domain: [-1.27, 1.08], ticks: residualTicks}
];

// ---------- layout ----------
const W = 2213, LEFT = 176, RIGHT = 2179;
const TOP0 = 171, STEP = 124.36, INNER = 104;
const GRAY = "#6f6f6f", FRAME = "#7d7d7d", GRID = "#e3e3e3";
const FONT = "'Liberation Sans', Arial, sans-serif";

const ctx = document.createElement("canvas").getContext("2d");
ctx.font = "26px 'Liberation Sans', Arial";
const fmtY = d => String(d);
const fmtX = d => String(+(d / 1e5).toFixed(1));

const host = document.getElementById("panels");
panels.forEach((p, i) => {
  const last = i === panels.length - 1;
  const mt = 12, mb = last ? 70 : 12;
  const w = Math.max(...p.ticks.map(t => ctx.measureText(fmtY(t)).width));
  const chart = Plot.plot({
    width: W,
    height: INNER + mt + mb,
    marginLeft: LEFT, marginRight: W - RIGHT, marginTop: mt, marginBottom: mb,
    style: {fontFamily: FONT, background: "transparent", overflow: "visible", maxWidth: "none"},
    x: {domain: [0, 220000], axis: null},
    y: {domain: p.domain, axis: null},
    marks: [
      Plot.gridX(xTicks, {stroke: GRID, strokeOpacity: 1, strokeWidth: 2}),
      Plot.gridY(p.ticks, {stroke: GRID, strokeOpacity: 1, strokeWidth: 2}),
      Plot.frame({stroke: FRAME, strokeWidth: 2}),
      Plot.axisX(xTicks, {anchor: "bottom", tickSize: -20, tickPadding: 40, stroke: FRAME, strokeWidth: 2,
        tickFormat: last ? fmtX : () => "", fontSize: 26, fill: GRAY}),
      Plot.axisX(xTicks, {anchor: "top", tickSize: -20, stroke: FRAME, strokeWidth: 2, tickFormat: () => ""}),
      Plot.axisY(p.ticks, {anchor: "left", tickSize: -20, tickPadding: 32, stroke: FRAME, strokeWidth: 2,
        tickFormat: fmtY, fontSize: 26, fill: GRAY}),
      Plot.axisY(p.ticks, {anchor: "right", tickSize: -20, stroke: FRAME, strokeWidth: 2, tickFormat: () => ""}),
      Plot.line(p.data, {x: d => d[0] * 1000, y: d => d[1], curve: "monotone-x", stroke: "#000", strokeWidth: 5, strokeLinejoin: "round", strokeLinecap: "round"}),
      Plot.text([p.label], {frameAnchor: "left", dx: -(w + 50), rotate: -90, textAnchor: "middle", lineAnchor: "top",
        fontSize: 30, fontWeight: "bold", fill: GRAY})
    ]
  });
  chart.style.position = "absolute";
  chart.style.left = "0px";
  chart.style.top = (TOP0 + i * STEP - mt) + "px";
  host.appendChild(chart);
});
</script>
</body>
</html>
